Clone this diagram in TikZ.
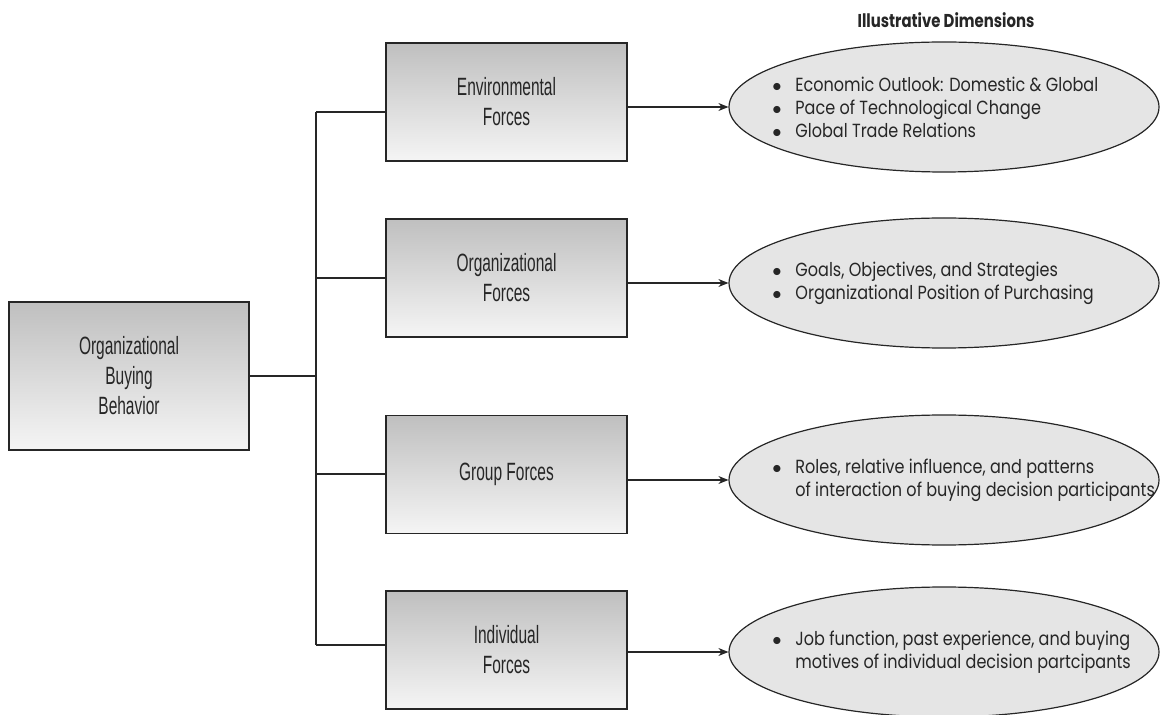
\documentclass[tikz,border=0pt]{standalone}
\usepackage{fontspec}
\setmainfont{Poppins}[FakeStretch=0.845]
\newfontfamily\boxfont[FakeStretch=0.62]{Liberation Sans}
\newfontfamily\headfont[FakeStretch=0.8]{Poppins}
\usetikzlibrary{shapes.geometric,arrows.meta}
\newcommand{\itm}[1]{\makebox[11.5pt][l]{$\bullet$}#1}

\begin{document}
\begin{tikzpicture}[x=0.5pt, y=-0.5pt,
    forcebox/.style={draw=black!85, line width=0.6pt, top color=black!25, bottom color=black!4,
      minimum width=120.5pt, minimum height=59pt, inner sep=0pt, align=center,
      font=\boxfont\fontsize{12.5}{15}\selectfont, text=black!85},
    dimension/.style={ellipse, draw=black!85, line width=0.6pt, fill=black!10,
      minimum width=215pt, minimum height=65pt, inner sep=0pt},
    items/.style={anchor=west, align=left, inner sep=0pt,
      font=\fontsize{9.5}{11.5}\selectfont, text=black!85},
    link/.style={draw=black!85, line width=0.6pt},
    arrow/.style={link, -{Stealth[length=5pt, width=4pt]}}
    ]
    \useasboundingbox (0,0) rectangle (1160,715);

    \node[forcebox, minimum width=120pt, minimum height=74pt] (obb) at (129,376) {Organizational\\Buying\\Behavior};

    \node[forcebox] (env) at (506.5,102) {Environmental\\Forces};
    \node[forcebox] (org) at (506.5,278) {Organizational\\Forces};
    \node[forcebox] (grp) at (506.5,474.5) {Group Forces};
    \node[forcebox] (ind) at (506.5,650) {Individual\\Forces};

    \node[font=\headfont\bfseries\fontsize{9.3}{11}\selectfont, text=black!85] (head) at (946,20) {Illustrative Dimensions};

    \node[dimension] (envdim) at (944,107) {};
    \node[dimension] (orgdim) at (944,283) {};
    \node[dimension] (grpdim) at (944,480) {};
    \node[dimension] (inddim) at (944,652) {};

    \node[items] (envtxt) at (772,107) {\itm{Economic Outlook: Domestic \& Global}\\\itm{Pace of Technological Change}\\\itm{Global Trade Relations}};
    \node[items] (orgtxt) at (772,283) {\itm{Goals, Objectives, and Strategies}\\\itm{Organizational Position of Purchasing}};
    \node[items] (grptxt) at (772,480) {\itm{Roles, relative influence, and patterns}\\\hspace{11.5pt}of interaction of buying decision participants};
    \node[items] (indtxt) at (772,652) {\itm{Job function, past experience, and buying}\\\hspace{11.5pt}motives of individual decision partcipants};

    \coordinate (tenv) at (316,112);
    \coordinate (torg) at (316,278);
    \coordinate (tgrp) at (316,474);
    \coordinate (tind) at (316,645);

    \draw[link] (obb.east) -- (obb.east -| tenv);
    \draw[link] (tenv) -- (tind);
    \draw[link] (tenv) -- (tenv -| env.west);
    \draw[link] (torg) -- (torg -| org.west);
    \draw[link] (tgrp) -- (tgrp -| grp.west);
    \draw[link] (tind) -- (tind -| ind.west);

    \draw[arrow] (envdim.west -| env.east) -- (envdim.west);
    \draw[arrow] (orgdim.west -| org.east) -- (orgdim.west);
    \draw[arrow] (grpdim.west -| grp.east) -- (grpdim.west);
    \draw[arrow] (inddim.west -| ind.east) -- (inddim.west);
  \end{tikzpicture}
\end{document}
